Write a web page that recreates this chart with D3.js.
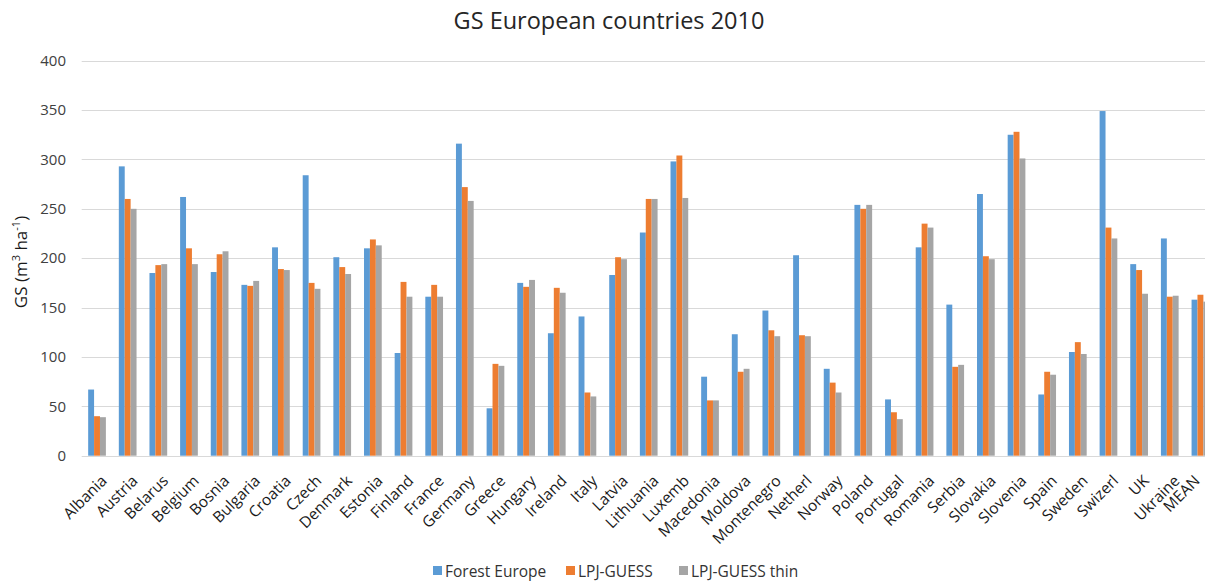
<!DOCTYPE html>
<html><head><meta charset="utf-8">
<script src="https://cdn.jsdelivr.net/npm/d3@7"></script>
<style>
body{margin:0;background:#fff;}
text{font-family:"Open Sans","Liberation Sans",sans-serif;}
</style></head><body>
<svg id="chart" width="1205" height="582"></svg>
<script>
const categories = ["Albania","Austria","Belarus","Belgium","Bosnia","Bulgaria","Croatia","Czech","Denmark","Estonia","Finland","France","Germany","Greece","Hungary","Ireland","Italy","Latvia","Lithuania","Luxemb","Macedonia","Moldova","Montenegro","Netherl","Norway","Poland","Portugal","Romania","Serbia","Slovakia","Slovenia","Spain","Sweden","Swizerl","UK","Ukraine","MEAN"];
const forestEurope = [67,293,185,262,186,173,211,284,201,210,104,161,316,48,175,124,141,183,226,298,80,123,147,203,88,254,57,211,153,265,325,62,105,349,194,220,158];
const lpjGuess     = [40,260,193,210,204,172,189,175,191,219,176,173,272,93,171,170,64,201,260,304,56,85,127,122,74,250,44,235,90,202,328,85,115,231,188,161,163];
const lpjGuessThin = [39,250,194,194,207,177,188,169,184,213,161,161,258,91,178,165,60,199,260,261,56,88,121,121,64,254,37,231,92,199,301,82,103,220,164,162,156];
const seriesNames = ["Forest Europe","LPJ-GUESS","LPJ-GUESS thin"];
const seriesColors = ["#5B9BD5","#ED7D31","#A5A5A5"];
const yTicks = [0,50,100,150,200,250,300,350,400];

const svg = d3.select("#chart");
const margin = {left:81.7};
const plotW = 37*30.65;
const x = d3.scaleBand().domain(categories).range([margin.left, margin.left+plotW]).paddingInner(0).paddingOuter(0);
const y = d3.scaleLinear().domain([0,400]).range([455.7, 60.7]);

// gridlines
svg.append("g").selectAll("line").data(yTicks).join("line")
  .attr("x1", margin.left).attr("x2", 1205)
  .attr("y1", d=>Math.round(y(d))+0.5).attr("y2", d=>Math.round(y(d))+0.5)
  .attr("stroke","#D9D9D9").attr("stroke-width",1);

// y tick labels
svg.append("g").selectAll("text").data(yTicks).join("text")
  .attr("x", 66).attr("y", d=>y(d)).attr("dy","0.35em")
  .attr("text-anchor","end").attr("font-size",15).attr("fill","#404040")
  .text(d=>d);

const data = [forestEurope, lpjGuess, lpjGuessThin];
const bw = x.bandwidth()/5.19;
const x1 = d3.scaleBand().domain([0,1,2]).range([0, 3*bw]);
const groupOff = (x.bandwidth()-3*bw)/2;

data.forEach((vals, si) => {
  svg.append("g").selectAll("rect").data(vals).join("rect")
    .attr("x", (d,i)=>x(categories[i])+groupOff+x1(si))
    .attr("width", bw)
    .attr("y", d=>y(d))
    .attr("height", d=>y(0)-y(d))
    .attr("fill", seriesColors[si]);
});

// x labels
svg.append("g").selectAll("text").data(categories).join("text")
  .attr("transform", d=>`translate(${Math.min(x(d)+x.bandwidth()/2+7, 1197)},${478}) rotate(-45)`)
  .attr("text-anchor","end").attr("font-size",15.5).attr("fill","#1a1a1a")
  .attr("dy","0.35em")
  .text(d=>d);

// title
svg.append("text").attr("x", 609).attr("y", 29).attr("text-anchor","middle")
  .attr("font-size",23.5).attr("fill","#262626").text("GS European countries 2010");

// y axis label
const yl = svg.append("text").attr("transform","translate(27,262) rotate(-90)")
  .attr("text-anchor","middle").attr("font-size",17).attr("fill","#1a1a1a");
yl.append("tspan").text("GS (m");
yl.append("tspan").attr("font-size",11).attr("dy","-7").text("3");
yl.append("tspan").attr("dy","7").text(" ha");
yl.append("tspan").attr("font-size",11).attr("dy","-7").text("-1");
yl.append("tspan").attr("dy","7").text(")");

// legend
const legX = [433, 566, 679];
const lg = svg.append("g");
seriesNames.forEach((n,i)=>{
  lg.append("rect").attr("x", legX[i]).attr("y", 566).attr("width",9).attr("height",9).attr("fill",seriesColors[i]);
  lg.append("text").attr("x", legX[i]+12).attr("y", 576.5)
    .attr("font-size",15.5).attr("fill","#333").text(n);
});
</script>
</body></html>
